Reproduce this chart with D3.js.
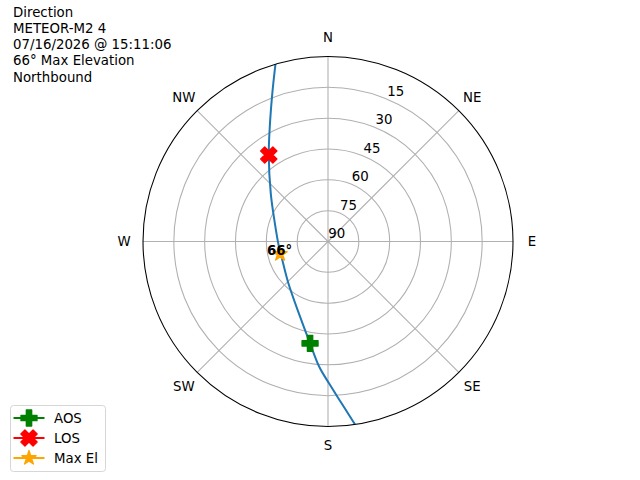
<!DOCTYPE html>
<html>
<head>
<meta charset="utf-8">
<script src="https://cdn.jsdelivr.net/npm/d3@7"></script>
<style>
  body { margin: 0; background: #fff; }
  svg { font-family: "DejaVu Sans", sans-serif; }
</style>
</head>
<body>
<svg id="chart" width="640" height="480"></svg>
<script>
// pass track (azimuth deg, elevation deg), AOS side first
var trackAz = [171.6, 175.2, 179.6, 184.0, 190.0, 200.4, 223.5, 251.9, 263.9, 291.8, 310.1, 325.6, 333.1, 339.4, 343.5];
var trackEl = [0, 11.0, 21.0, 28.9, 39.7, 51.0, 62.0, 66.2, 66.0, 61.9, 53.6, 39.0, 27.4, 13.0, 0];

var events = ['AOS', 'LOS', 'Max El'];
var eventAz = [190.0, 325.6, 255.4];
var eventEl = [39.7, 39.0, 65.9];
var maxElLabel = '66°';

var ringTicks = [15, 30, 45, 60, 75, 90];
var compass = ['N', 'NE', 'E', 'SE', 'S', 'SW', 'W', 'NW'];
var titleLines = ['Direction', 'METEOR-M2 4', '07/16/2026 @ 15:11:06', '66° Max Elevation', 'Northbound'];

var svg = d3.select('#chart');
var cx = 328, cy = 241.5, R = 185;
var grid = '#b0b0b0';

var r = d3.scaleLinear().domain([90, 0]).range([0, R]);
var rad = function (deg) { return deg * Math.PI / 180; };

function pt(az, el) {
    return [cx + r(el) * Math.sin(rad(az)), cy - r(el) * Math.cos(rad(az))];
}

var g = svg.append('g');

// rings
g.selectAll('circle.ring')
    .data(ringTicks.filter(function (d) { return d < 90; }))
    .enter()
    .append('circle')
    .attr('cx', cx).attr('cy', cy)
    .attr('r', function (d) { return r(d); })
    .attr('fill', 'none')
    .attr('stroke', grid)
    .attr('stroke-width', 1.07);

// spokes
g.selectAll('line.spoke')
    .data(d3.range(0, 360, 45))
    .enter()
    .append('line')
    .attr('x1', cx).attr('y1', cy)
    .attr('x2', function (d) { return pt(d, 0)[0]; })
    .attr('y2', function (d) { return pt(d, 0)[1]; })
    .attr('stroke', grid)
    .attr('stroke-width', 1.07);

// radial tick labels
g.selectAll('text.rtick')
    .data(ringTicks)
    .enter()
    .append('text')
    .attr('x', function (d) { return pt(22.5, d)[0] + 8.7; })
    .attr('y', function (d) { return pt(22.5, d)[1] - 8 + 4.8; })
    .attr('text-anchor', 'middle')
    .attr('font-size', 13.33)
    .text(function (d) { return d; });

// compass labels
g.selectAll('text.dir')
    .data(compass)
    .enter()
    .append('text')
    .attr('x', function (d, i) { return cx + 204 * Math.sin(rad(i * 45)); })
    .attr('y', function (d, i) { return cy - 204 * Math.cos(rad(i * 45)) + 4.8; })
    .attr('text-anchor', 'middle')
    .attr('font-size', 13.33)
    .text(function (d) { return d; });

// track
var line = d3.line().curve(d3.curveCatmullRom.alpha(0.5));
g.append('path')
    .attr('d', line(trackAz.map(function (a, i) { return pt(a, trackEl[i]); })))
    .attr('fill', 'none')
    .attr('stroke', '#1f77b4')
    .attr('stroke-width', 2);

// outer spine
g.append('circle')
    .attr('cx', cx).attr('cy', cy).attr('r', R)
    .attr('fill', 'none')
    .attr('stroke', '#000')
    .attr('stroke-width', 1.07);

var styles = [
    {color: '#008000', sym: d3.symbolCross, size: 142, rot: 0},
    {color: '#ff0000', sym: d3.symbolCross, size: 165, rot: 45},
    {color: '#ffa500', sym: d3.symbolStar, size: 63, rot: 0}
];

function marker(sel, i) {
    sel.append('path')
        .attr('d', d3.symbol().type(styles[i].sym).size(styles[i].size)())
        .attr('transform', 'rotate(' + styles[i].rot + ')')
        .attr('fill', styles[i].color)
        .attr('stroke', styles[i].color)
        .attr('stroke-width', 1.33)
        .attr('stroke-linejoin', 'round');
}

events.forEach(function (e, i) {
    var p = pt(eventAz[i], eventEl[i]);
    g.append('g')
        .attr('transform', 'translate(' + p[0] + ',' + p[1] + ')')
        .call(marker, i);
});

var mx = pt(eventAz[2], eventEl[2]);
g.append('text')
    .attr('x', mx[0] - 0.5)
    .attr('y', mx[1] + 1.5)
    .attr('text-anchor', 'middle')
    .attr('font-size', 13.33)
    .attr('font-weight', 'bold')
    .text(maxElLabel);

// title block
svg.append('text')
    .attr('font-size', 13.33)
    .selectAll('tspan')
    .data(titleLines)
    .enter()
    .append('tspan')
    .attr('x', 13)
    .attr('y', function (d, i) { return 16.7 + i * 16.2; })
    .text(function (d) { return d; });

// legend
var leg = svg.append('g');
leg.append('rect')
    .attr('x', 10.5).attr('y', 405.5)
    .attr('width', 95).attr('height', 66)
    .attr('rx', 3)
    .attr('fill', '#fff')
    .attr('stroke', '#d6d6d6');

events.forEach(function (e, i) {
    var y = 418 + i * 20;
    var row = leg.append('g');
    row.append('line')
        .attr('x1', 13.5).attr('x2', 44.5)
        .attr('y1', y).attr('y2', y)
        .attr('stroke', styles[i].color)
        .attr('stroke-width', 2);
    row.append('g')
        .attr('transform', 'translate(29,' + y + ')')
        .call(marker, i);
    row.append('text')
        .attr('x', 54)
        .attr('y', y + 4.8)
        .attr('font-size', 13.33)
        .text(e);
});
</script>
</body>
</html>
